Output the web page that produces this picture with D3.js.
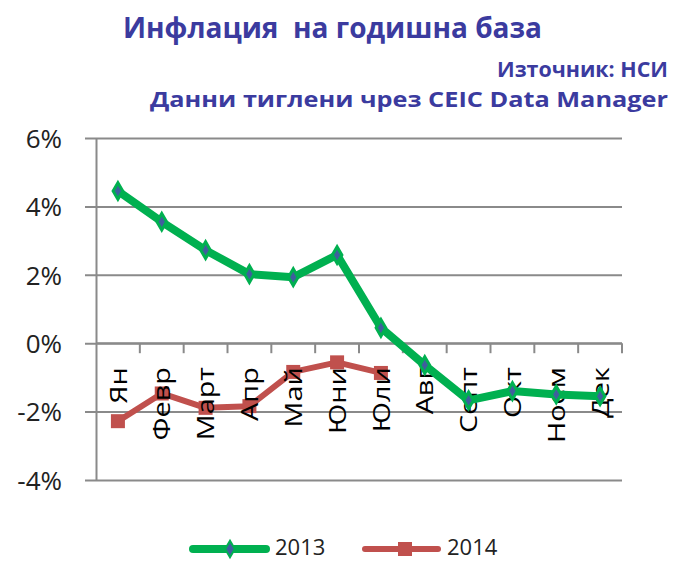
<!DOCTYPE html>
<html>
<head>
<meta charset="utf-8">
<script src="https://cdn.jsdelivr.net/npm/d3@7"></script>
<style>
  body { margin: 0; background: #fff; }
  svg { display: block; }
</style>
</head>
<body>
<svg id="chart"></svg>
<script>
// data
var months = ["Ян", "Февр", "Март", "Апр", "Май", "Юни", "Юли", "Авг", "Септ", "Окт", "Ноем", "Дек"]
var values2013 = [4.45, 3.55, 2.72, 2.02, 1.93, 2.58, 0.45, -0.64, -1.67, -1.40, -1.50, -1.55]
var values2014 = [-2.28, -1.47, -1.89, -1.84, -0.84, -0.56, -0.87]
var yTicks = [-4, -2, 0, 2, 4, 6]
var seriesNames = ["2013", "2014"]

var width = 675, height = 562
var margin = {top: 138, right: 53, bottom: 82, left: 96}
var titleColor = "#3b3b9f"
var green = "#00b050", red = "#c0504d", blue = "#3f5f9d"
var font = "'Open Sans', 'DejaVu Sans', sans-serif"

var svg = d3.select("#chart")
    .attr("width", width)
    .attr("height", height)
    .style("font-family", font)

// titles
svg.append("text")
    .attr("x", 123).attr("y", 38)
    .attr("textLength", 419).attr("lengthAdjust", "spacingAndGlyphs")
    .style("font-size", "29px").style("font-weight", "bold")
    .style("white-space", "pre")
    .style("fill", titleColor)
    .text("Инфлация  на годишна база")

svg.append("text")
    .attr("x", 497).attr("y", 77)
    .attr("textLength", 171).attr("lengthAdjust", "spacingAndGlyphs")
    .style("font-size", "22px").style("font-weight", "bold")
    .style("fill", titleColor)
    .text("Източник: НСИ")

svg.append("text")
    .attr("x", 150).attr("y", 107)
    .attr("textLength", 518).attr("lengthAdjust", "spacingAndGlyphs")
    .style("font-size", "22px").style("font-weight", "bold")
    .style("fill", titleColor)
    .text("Данни тиглени чрез CEIC Data Manager")

// scales
var x = d3.scaleBand()
    .domain(months)
    .range([margin.left, width - margin.right])

var y = d3.scaleLinear()
    .domain([-4, 6])
    .range([height - margin.bottom, margin.top])

// horizontal grid lines (also y ticks)
var yAxis = svg.append("g")
    .attr("transform", "translate(" + margin.left + ",0)")
    .call(d3.axisLeft(y)
        .tickValues(yTicks)
        .tickSize(-(width - margin.right - margin.left))
        .tickSizeOuter(0)
        .tickFormat(function (d) { return d + "%" }))

yAxis.select(".domain").attr("stroke", "#8a8a8a").attr("stroke-width", 2)
yAxis.selectAll(".tick line")
    .attr("x1", -11)
    .attr("stroke", "#8a8a8a")
    .attr("stroke-width", 2)
yAxis.selectAll(".tick text")
    .attr("x", -34)
    .attr("dy", "0.36em")
    .style("font-family", font)
    .style("font-size", "26px")
    .style("fill", "#222")

// x axis on the zero line, ticks between categories
var xAxis = svg.append("g")
    .attr("transform", "translate(0," + y(0) + ")")

xAxis.append("line")
    .attr("x1", margin.left).attr("x2", width - margin.right)
    .attr("stroke", "#8a8a8a").attr("stroke-width", 2)

xAxis.selectAll(".xtick")
    .data(months)
    .enter()
    .append("line")
    .attr("class", "xtick")
    .attr("x1", function (d) { return x(d) + x.bandwidth() })
    .attr("x2", function (d) { return x(d) + x.bandwidth() })
    .attr("y1", 0).attr("y2", 10)
    .attr("stroke", "#8a8a8a").attr("stroke-width", 2)

// line helpers
var line = d3.line()
    .x(function (d, i) { return x(months[i]) + x.bandwidth() / 2 })
    .y(function (d) { return y(d) })

// 2014 series (drawn first, under 2013)
var g2014 = svg.append("g")
g2014.append("path")
    .datum(values2014)
    .attr("d", line)
    .attr("fill", "none")
    .attr("stroke", red)
    .attr("stroke-width", 6)
    .attr("stroke-linejoin", "round")
g2014.selectAll("rect")
    .data(values2014)
    .enter()
    .append("rect")
    .attr("x", function (d, i) { return x(months[i]) + x.bandwidth() / 2 - 7 })
    .attr("y", function (d) { return y(d) - 7 })
    .attr("width", 14).attr("height", 14)
    .attr("fill", red)

// x labels, rotated
svg.append("g")
    .selectAll("text")
    .data(months)
    .enter()
    .append("text")
    .attr("transform", function (d) {
        return "translate(" + (x(d) + x.bandwidth() / 2) + "," + (y(0) + 24) + ") rotate(-90) scale(1.2,1)"
    })
    .attr("text-anchor", "end")
    .attr("dy", "0.36em")
    .style("font-size", "24px")
    .style("fill", "#000")
    .text(function (d) { return d })

// 2013 series
var g2013 = svg.append("g")
g2013.append("path")
    .datum(values2013)
    .attr("d", line)
    .attr("fill", "none")
    .attr("stroke", green)
    .attr("stroke-width", 8)
    .attr("stroke-linejoin", "round")
var diamond = d3.symbol().type(d3.symbolDiamond).size(80)
g2013.selectAll("path.marker")
    .data(values2013)
    .enter()
    .append("path")
    .attr("class", "marker")
    .attr("d", diamond)
    .attr("transform", function (d, i) {
        return "translate(" + (x(months[i]) + x.bandwidth() / 2) + "," + y(d) + ")"
    })
    .attr("fill", blue)
    .attr("stroke", green)
    .attr("stroke-width", 3)

// legend
var legend = svg.append("g").attr("transform", "translate(0,549)")
var legendItems = [
    {name: seriesNames[0], x: 193, color: green, w: 8},
    {name: seriesNames[1], x: 365, color: red, w: 6}
]
legendItems.forEach(function (item, i) {
    var gi = legend.append("g").attr("transform", "translate(" + item.x + ",0)")
    gi.append("line")
        .attr("x1", 0).attr("x2", 73)
        .attr("stroke", item.color)
        .attr("stroke-width", item.w)
        .attr("stroke-linecap", "round")
    if (i === 0) {
        gi.append("path")
            .attr("d", diamond)
            .attr("transform", "translate(37,0)")
            .attr("fill", blue)
            .attr("stroke", green)
            .attr("stroke-width", 2)
    } else {
        gi.append("rect")
            .attr("x", 33).attr("y", -7)
            .attr("width", 14).attr("height", 14)
            .attr("fill", red)
    }
    gi.append("text")
        .attr("x", 82).attr("y", 6)
        .style("font-size", "22px")
        .style("fill", "#222")
        .text(item.name)
})
</script>
</body>
</html>
